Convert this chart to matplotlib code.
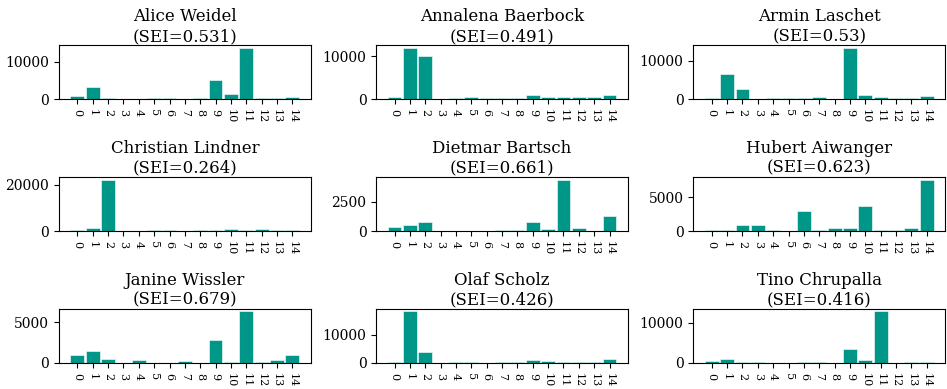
import numpy as np
import matplotlib
matplotlib.use("Agg")
from matplotlib import pyplot as plt

plt.rcParams['font.family'] = 'DejaVu Serif'

topics = list(range(15))

names = ['Alice Weidel', 'Annalena Baerbock', 'Armin Laschet',
         'Christian Lindner', 'Dietmar Bartsch', 'Hubert Aiwanger',
         'Janine Wissler', 'Olaf Scholz', 'Tino Chrupalla']
sei = ['0.531', '0.491', '0.53', '0.264', '0.661', '0.623', '0.679', '0.426', '0.416']

weidel = [850, 3150, 420, 0, 0, 420, 420, 0, 420, 5200, 1300, 13700, 420, 420, 600]
baerbock = [520, 12000, 10080, 0, 250, 450, 250, 250, 250, 900, 450, 450, 450, 450, 900]
laschet = [350, 6640, 2570, 0, 350, 350, 350, 600, 0, 13360, 1000, 600, 350, 350, 850]
lindner = [650, 1450, 22170, 0, 0, 650, 650, 0, 650, 650, 950, 650, 950, 650, 650]
bartsch = [345, 517, 776, 0, 0, 0, 0, 130, 130, 776, 200, 4400, 260, 0, 1265]
aiwanger = [220, 220, 890, 890, 220, 0, 2970, 220, 460, 460, 3660, 220, 220, 460, 7570]
wissler = [980, 1460, 480, 0, 350, 0, 0, 230, 0, 2790, 150, 6330, 150, 350, 980]
scholz = [450, 18300, 3860, 0, 450, 450, 0, 450, 450, 1050, 800, 450, 450, 450, 1400]
chrupalla = [550, 950, 320, 320, 0, 0, 320, 320, 0, 3450, 700, 12770, 0, 320, 320]

counts = [weidel, baerbock, laschet, lindner, bartsch, aiwanger, wissler, scholz, chrupalla]

fig, axes = plt.subplots(3, 3, figsize=(9.47, 3.89), dpi=100)
for ax, name, s, vals in zip(axes.flat, names, sei, counts):
    ax.bar(topics, vals, width=0.9, color='#009688', edgecolor='white', linewidth=0.4)
    ax.set_title(f'{name}\n(SEI={s})', fontsize=12, pad=3)
    ax.set_xticks(topics)
    ax.set_xticklabels([str(t) for t in topics], rotation=270, fontsize=8)
    ax.tick_params(axis='y', labelsize=10)

fig.subplots_adjust(left=0.0623, right=0.998, bottom=0.067, top=0.884,
                    wspace=0.26, hspace=1.44)
plt.savefig('out.png', dpi=100)
